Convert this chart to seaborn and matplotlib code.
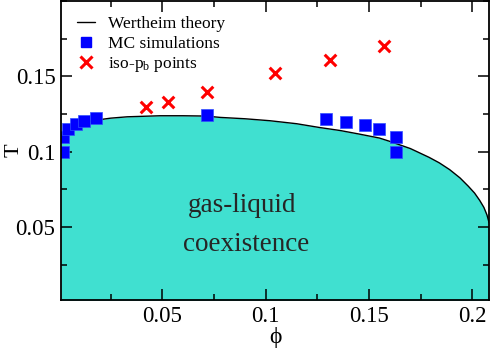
import matplotlib
matplotlib.use("Agg")
import matplotlib.pyplot as plt
from matplotlib.lines import Line2D
from matplotlib.ticker import MultipleLocator
import seaborn as sns

sns.set_theme(style="ticks")
plt.rcParams['font.family'] = ['Liberation Serif', 'DejaVu Serif']
plt.rcParams['mathtext.fontset'] = 'custom'
plt.rcParams['mathtext.rm'] = 'Liberation Serif'
plt.rcParams['axes.axisbelow'] = False

# Wertheim theory coexistence curve
theory_phi = [0.001, 0.003, 0.006, 0.010, 0.016, 0.025, 0.033, 0.049, 0.060,
              0.071, 0.078, 0.090, 0.102, 0.115, 0.126, 0.136, 0.145, 0.155,
              0.160, 0.170, 0.179, 0.184, 0.189, 0.194, 0.198, 0.201, 0.2035,
              0.2055, 0.207, 0.208]
theory_T = [0.106, 0.1125, 0.1160, 0.1185, 0.1205, 0.1222, 0.1231, 0.1238, 0.1238,
            0.1236, 0.1227, 0.1218, 0.1205, 0.1185, 0.1160, 0.1140, 0.1117, 0.1090,
            0.1068, 0.1020, 0.0962, 0.0925, 0.0880, 0.0825, 0.0770, 0.0725, 0.0676,
            0.0630, 0.0580, 0.0530]

# MC simulations
mc_phi = [0.0022, 0.0020, 0.0043, 0.0084, 0.012, 0.018, 0.0717,
          0.1293, 0.139, 0.1482, 0.155, 0.163, 0.163]
mc_T = [0.0995, 0.110, 0.115, 0.118, 0.120, 0.122, 0.1246,
        0.1218, 0.1198, 0.1178, 0.115, 0.110, 0.0995]

# iso-p_b points
iso_phi = [0.0419, 0.0527, 0.0717, 0.1047, 0.131, 0.157]
iso_T = [0.1297, 0.1332, 0.1398, 0.152, 0.1608, 0.170]

fig = plt.figure(figsize=(4.9, 3.51), dpi=100)
ax = fig.add_axes([0.1245, 0.1453, 0.8735, 0.852])
ax.set_axisbelow(False)

ax.fill_between(theory_phi, theory_T, 0, color='#40e0d0', lw=0, zorder=1)
sns.lineplot(x=theory_phi, y=theory_T, color='black', lw=1.0, ax=ax,
             sort=False, zorder=2)
sns.scatterplot(x=mc_phi, y=mc_T, marker='s', color='#0000ff', s=70,
                edgecolor='#3050ff', linewidth=0.5, ax=ax, zorder=3)
sns.scatterplot(x=iso_phi, y=iso_T, marker='x', color='#ff0000', s=70,
                linewidth=2.2, ax=ax, zorder=3)

ax.set_xlim(0.001, 0.208)
ax.set_ylim(0.0015, 0.2)
ax.set_xticks([0.05, 0.1, 0.15, 0.2])
ax.set_xticklabels(['0.05', '0.1', '0.15', '0.2'])
ax.set_yticks([0.05, 0.1, 0.15])
ax.set_yticklabels(['0.05', '0.1', '0.15'])
ax.xaxis.set_minor_locator(MultipleLocator(0.025))
ax.yaxis.set_minor_locator(MultipleLocator(0.025))
ax.tick_params(which='both', direction='in', top=True, right=True, width=1.1,
               color='black', labelcolor='black', labelsize=16.5, pad=4)
ax.tick_params(which='major', length=8)
ax.tick_params(which='minor', length=4)
for sp in ax.spines.values():
    sp.set_linewidth(1.3)
    sp.set_color('black')
    sp.set_zorder(5)

ax.set_xlabel('\u03d5', fontsize=17, labelpad=0, color='black')
ax.set_ylabel('T', fontsize=16, color='black')
ax.yaxis.set_label_coords(-0.088, 0.5)

ax.text(0.0885, 0.064, 'gas-liquid', fontsize=19.5, ha='center', va='center',
        zorder=4)
ax.text(0.0905, 0.0385, 'coexistence', fontsize=19.5, ha='center', va='center',
        zorder=4)

handles = [
    Line2D([], [], color='black', lw=1.0),
    Line2D([], [], color='#0000ff', marker='s', ls='none', markersize=7),
    Line2D([], [], color='#ff0000', marker='x', ls='none', markersize=8, mew=2.2),
]
labels = ['Wertheim theory', 'MC simulations', r'iso-$\mathregular{p_b}$ points']
leg = ax.legend(handles, labels, loc='upper left', frameon=False, fontsize=12.5,
                handlelength=1.0, handletextpad=0.75, labelspacing=0.18,
                borderaxespad=0.0, bbox_to_anchor=(0.022, 0.972))
for t in leg.get_texts():
    t.set_color('black')

fig.savefig('out.png', dpi=100)
